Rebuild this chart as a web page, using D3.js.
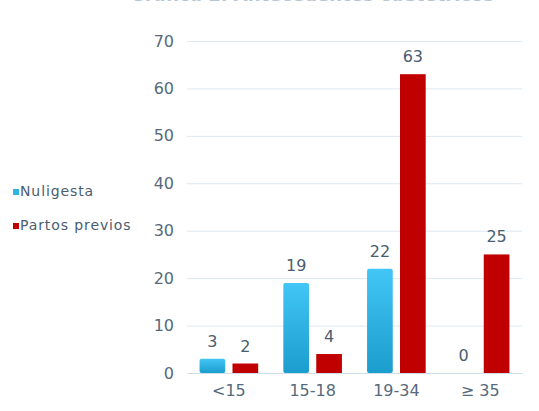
<!DOCTYPE html>
<html>
<head>
<meta charset="utf-8">
<script src="https://cdn.jsdelivr.net/npm/d3@7"></script>
<style>
  body { margin: 0; background: #fff; }
  text { font-family: "DejaVu Sans", sans-serif; }
</style>
</head>
<body>
<div id="chart"></div>
<script>
let width = 539,
    height = 411,
    margin = ({ top: 41, right: 17, bottom: 38, left: 187 });

// data
const categories = ["<15", "15-18", "19-34", "\u2265 35"];
const series = ["Nuligesta", "Partos previos"];
const nuligesta = [3, 19, 22, 0];
const partosPrevios = [2, 4, 63, 25];
const yTicks = [0, 10, 20, 30, 40, 50, 60, 70];

const values = { "Nuligesta": nuligesta, "Partos previos": partosPrevios };

const svg = d3.select("#chart")
  .append("svg")
  .attr("width", width)
  .attr("height", height);

const defs = svg.append("defs");
const grad = defs.append("linearGradient")
  .attr("id", "blueGrad")
  .attr("x1", 0).attr("y1", 0).attr("x2", 0).attr("y2", 1);
grad.append("stop").attr("offset", "0%").attr("stop-color", "#42c6f6");
grad.append("stop").attr("offset", "100%").attr("stop-color", "#1b9dcd");

const color = { "Nuligesta": "url(#blueGrad)", "Partos previos": "#c00000" };
const legendColor = { "Nuligesta": "#2fb4e6", "Partos previos": "#c00000" };

// title (cut off at top of picture, as in the source)
svg.append("text")
  .attr("x", 312)
  .attr("y", 1)
  .attr("text-anchor", "middle")
  .attr("font-size", 18)
  .attr("font-weight", "bold")
  .attr("fill", "#b7c4d2")
  .text("Gráfica 2. Antecedentes obstétricos");

let x0 = d3.scaleBand()
  .domain(categories)
  .range([margin.left, width - margin.right])
  .paddingInner(0.3)
  .paddingOuter(0.15);

let x1 = d3.scaleBand()
  .domain(series)
  .range([0, x0.bandwidth()])
  .paddingInner(0.22);

let y = d3.scaleLinear()
  .domain([0, 70])
  .range([height - margin.bottom, margin.top]);

// gridlines + y labels
svg.append("g")
  .attr("transform", `translate(${margin.left},0)`)
  .call(d3.axisLeft(y).tickValues(yTicks).tickSize(-(width - margin.left - margin.right)).tickPadding(13))
  .call(g => g.select(".domain").remove())
  .call(g => g.selectAll(".tick line").attr("stroke", "#dde8f0"))
  .call(g => g.selectAll(".tick text")
    .attr("font-size", 16)
    .attr("fill", "#566a7c")
    .attr("font-family", "DejaVu Sans, sans-serif"));

// x axis
svg.append("g")
  .attr("transform", `translate(0,${height - margin.bottom})`)
  .call(d3.axisBottom(x0).tickSize(0).tickPadding(12))
  .call(g => g.select(".domain").attr("stroke", "#cfdfe9"))
  .call(g => g.selectAll(".tick text")
    .attr("font-size", 16)
    .attr("fill", "#566a7c")
    .attr("font-family", "DejaVu Sans, sans-serif"));

// bars
for (let s of series) {
  let g = svg.append("g").attr("class", "series");
  let data = categories.map((c, i) => ({ cat: c, value: values[s][i] }));

  g.selectAll("rect")
    .data(data)
    .join("rect")
    .attr("x", d => x0(d.cat) + x1(s))
    .attr("y", d => y(d.value))
    .attr("width", x1.bandwidth())
    .attr("height", d => y(0) - y(d.value))
    .attr("rx", s === "Nuligesta" ? 2 : 0)
    .attr("fill", color[s]);

  g.selectAll("text")
    .data(data)
    .join("text")
    .attr("x", d => x0(d.cat) + x1(s) + x1.bandwidth() / 2)
    .attr("y", d => y(d.value) - 12)
    .attr("text-anchor", "middle")
    .attr("font-size", 16)
    .attr("fill", "#4a5d70")
    .text(d => d.value);
}

// legend
const legendPos = [{ x: 13, y: 196 }, { x: 13, y: 230 }];
series.forEach((s, i) => {
  let g = svg.append("g").attr("transform", `translate(${legendPos[i].x},${legendPos[i].y})`);
  g.append("rect")
    .attr("x", 0).attr("y", -7)
    .attr("width", 6).attr("height", 6)
    .attr("fill", legendColor[s]);
  g.append("text")
    .attr("x", 7)
    .attr("y", 0)
    .attr("font-size", 14)
    .attr("letter-spacing", 0.9)
    .attr("fill", "#4a5d70")
    .text(s);
});
</script>
</body>
</html>
